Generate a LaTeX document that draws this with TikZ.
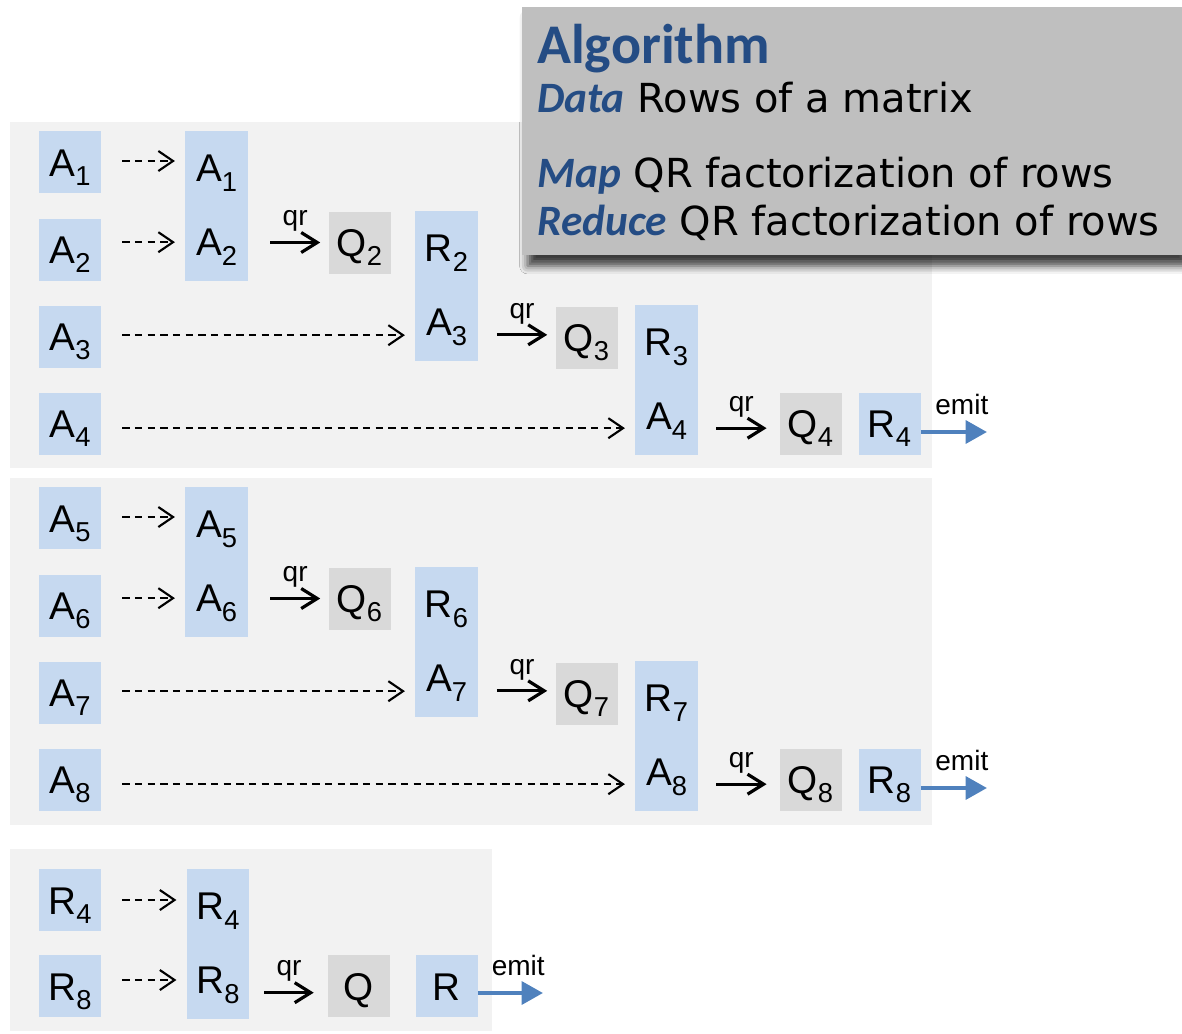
\documentclass[tikz,border=0pt]{standalone}
\usepackage{fontspec}
\setmainfont{Liberation Sans}
\newfontfamily\descfont{DejaVu Sans}
\newfontfamily\headfont{Carlito}
\usetikzlibrary{arrows.meta,shadows.blur}

\definecolor{rowblue}{HTML}{C6D9F0}
\definecolor{qgray}{HTML}{D9D9D9}
\definecolor{panelgray}{HTML}{F2F2F2}
\definecolor{algogray}{HTML}{BFBFBF}
\definecolor{titleblue}{HTML}{244C84}
\definecolor{emitblue}{HTML}{4F81BD}

% block label with a dropped index
\newcommand{\sub}[2]{#1\raisebox{-7pt}{\fontsize{20.5}{20.5}\selectfont #2}}
\newcommand{\kw}[1]{{\headfont\bfseries\itshape\fontsize{32.5}{32.5}\selectfont\color{titleblue}#1}}

\tikzset{
	cell/.style={inner sep=0pt, text height=33.75pt, text depth=12.75pt, font=\fontsize{29}{29}\selectfont},
	blk/.style={cell, fill=rowblue, minimum width=46.5pt, minimum height=46.5pt},
	qblk/.style={blk, fill=qgray},
	tallblk/.style={fill=rowblue, minimum width=47pt, minimum height=112.5pt, inner sep=0pt},
	shuffle/.style={line width=1.6pt, dash pattern=on 5.6pt off 3.9pt, -{Straight Barb[length=11pt,width=15pt]}},
	qrarrow/.style={line width=2.4pt, -{Straight Barb[length=12pt,width=15pt]}},
	emitarrow/.style={line width=3.2pt, emitblue, -{Triangle[length=16pt,width=17pt]}},
	lbl/.style={font=\fontsize{21}{21}\selectfont, inner sep=0pt},
	algline/.style={anchor=base west, inner sep=0pt, font=\descfont\fontsize{30}{30}\selectfont},
}

\begin{document}
\begin{tikzpicture}[x=0.75pt, y=-0.75pt]
	\useasboundingbox (0,0) rectangle (1182,1033);
	
	%%%%% first map task %%%%%
	\fill[panelgray] (10,122) rectangle (932,468);
	
	\node[blk] (a1) at (70,162) {\sub{A}{1}};
	\node[blk] (a2) at (70,249.5) {\sub{A}{2}};
	\node[blk] (a3) at (70,336.5) {\sub{A}{3}};
	\node[blk] (a4) at (70,423.5) {\sub{A}{4}};
	
	\node[tallblk] (m12) at (216.5,206) {};
	\node[cell] (m12a) at ([yshift=-27.75pt]m12.north) {\sub{A}{1}};
	\node[cell] (m12b) at ([yshift=-83.25pt]m12.north) {\sub{A}{2}};
	\node[qblk] (q2) at (359.5,242.5) {\sub{Q}{2}};
	
	\node[tallblk] (m23) at (446.5,286) {};
	\node[cell] (m23a) at ([yshift=-27.75pt]m23.north) {\sub{R}{2}};
	\node[cell] (m23b) at ([yshift=-83.25pt]m23.north) {\sub{A}{3}};
	\node[qblk] (q3) at (586.5,337.5) {\sub{Q}{3}};
	
	\node[tallblk] (m34) at (666.5,380) {};
	\node[cell] (m34a) at ([yshift=-27.75pt]m34.north) {\sub{R}{3}};
	\node[cell] (m34b) at ([yshift=-83.25pt]m34.north) {\sub{A}{4}};
	\node[qblk] (q4) at (810.5,423.5) {\sub{Q}{4}};
	\node[blk] (r4) at (889.5,423.5) {\sub{R}{4}};
	
	\draw[shuffle] ([xshift=15.75pt,yshift=0.75pt]a1.east) -- ([xshift=-7.5pt,yshift=0.75pt]a1.east -| m12.west);
	\draw[shuffle] ([xshift=15.75pt,yshift=5.5pt]a2.east) -- ([xshift=-7.5pt,yshift=5.5pt]a2.east -| m12.west);
	\draw[shuffle] ([xshift=15.75pt,yshift=1pt]a3.east) -- ([xshift=-7.5pt,yshift=1pt]a3.east -| m23.west);
	\draw[shuffle] ([xshift=15.75pt,yshift=-3.5pt]a4.east) -- ([xshift=-7.5pt,yshift=-3.5pt]a4.east -| m34.west);
	
	\draw[qrarrow] ([xshift=16.5pt]q2.west -| m12.east) -- node[lbl, above=7pt] (qr2) {qr} ([xshift=-6pt]q2.west);
	\draw[qrarrow] ([xshift=14pt,yshift=2pt]q3.west -| m23.east) -- node[lbl, above=7pt] (qr3) {qr} ([xshift=-6pt,yshift=2pt]q3.west);
	\draw[qrarrow] ([xshift=13.5pt,yshift=-3.5pt]q4.west -| m34.east) -- node[lbl, above=7pt] (qr4) {qr} ([xshift=-9.5pt,yshift=-3.5pt]q4.west);
	
	\coordinate (e4) at (987,432);
	\draw[emitarrow] (r4.east |- e4) -- node[lbl, above=11pt, pos=0.62, text=black] (emit4) {emit} (e4);
	
	%%%%% second map task %%%%%
	\fill[panelgray] (10,478) rectangle (932,825);
	
	\node[blk] (a5) at (70,518) {\sub{A}{5}};
	\node[blk] (a6) at (70,605.5) {\sub{A}{6}};
	\node[blk] (a7) at (70,692.5) {\sub{A}{7}};
	\node[blk] (a8) at (70,779.5) {\sub{A}{8}};
	
	\node[tallblk] (m56) at (216.5,562) {};
	\node[cell] (m56a) at ([yshift=-27.75pt]m56.north) {\sub{A}{5}};
	\node[cell] (m56b) at ([yshift=-83.25pt]m56.north) {\sub{A}{6}};
	\node[qblk] (q6) at (359.5,598.5) {\sub{Q}{6}};
	
	\node[tallblk] (m67) at (446.5,642) {};
	\node[cell] (m67a) at ([yshift=-27.75pt]m67.north) {\sub{R}{6}};
	\node[cell] (m67b) at ([yshift=-83.25pt]m67.north) {\sub{A}{7}};
	\node[qblk] (q7) at (586.5,693.5) {\sub{Q}{7}};
	
	\node[tallblk] (m78) at (666.5,736) {};
	\node[cell] (m78a) at ([yshift=-27.75pt]m78.north) {\sub{R}{7}};
	\node[cell] (m78b) at ([yshift=-83.25pt]m78.north) {\sub{A}{8}};
	\node[qblk] (q8) at (810.5,779.5) {\sub{Q}{8}};
	\node[blk] (r8) at (889.5,779.5) {\sub{R}{8}};
	
	\draw[shuffle] ([xshift=15.75pt,yshift=0.75pt]a5.east) -- ([xshift=-7.5pt,yshift=0.75pt]a5.east -| m56.west);
	\draw[shuffle] ([xshift=15.75pt,yshift=5.5pt]a6.east) -- ([xshift=-7.5pt,yshift=5.5pt]a6.east -| m56.west);
	\draw[shuffle] ([xshift=15.75pt,yshift=1pt]a7.east) -- ([xshift=-7.5pt,yshift=1pt]a7.east -| m67.west);
	\draw[shuffle] ([xshift=15.75pt,yshift=-3.5pt]a8.east) -- ([xshift=-7.5pt,yshift=-3.5pt]a8.east -| m78.west);
	
	\draw[qrarrow] ([xshift=16.5pt]q6.west -| m56.east) -- node[lbl, above=7pt] (qr6) {qr} ([xshift=-6pt]q6.west);
	\draw[qrarrow] ([xshift=14pt,yshift=2pt]q7.west -| m67.east) -- node[lbl, above=7pt] (qr7) {qr} ([xshift=-6pt,yshift=2pt]q7.west);
	\draw[qrarrow] ([xshift=13.5pt,yshift=-3.5pt]q8.west -| m78.east) -- node[lbl, above=7pt] (qr8) {qr} ([xshift=-9.5pt,yshift=-3.5pt]q8.west);
	
	\coordinate (e8) at (987,788);
	\draw[emitarrow] (r8.east |- e8) -- node[lbl, above=11pt, pos=0.62, text=black] (emit8) {emit} (e8);
	
	%%%%% reduce task %%%%%
	\fill[panelgray] (10,849) rectangle (492,1031);
	
	\node[blk] (rin4) at (70,900) {\sub{R}{4}};
	\node[blk] (rin8) at (70,986) {\sub{R}{8}};
	\node[tallblk] (m48) at (218,944) {};
	\node[cell] (m48a) at ([yshift=-27.75pt]m48.north) {\sub{R}{4}};
	\node[cell] (m48b) at ([yshift=-83.25pt]m48.north) {\sub{R}{8}};
	\node[qblk] (qout) at (359,986) {Q};
	\node[blk] (rout) at (446.5,986) {R};
	
	\draw[shuffle] ([xshift=15.75pt]rin4.east) -- ([xshift=-7.5pt]rin4.east -| m48.west);
	\draw[shuffle] ([xshift=15.75pt,yshift=4.5pt]rin8.east) -- ([xshift=-7.5pt,yshift=4.5pt]rin8.east -| m48.west);
	\draw[qrarrow] ([xshift=11pt,yshift=-5pt]qout.west -| m48.east) -- node[lbl, above=7pt] (qrout) {qr} ([xshift=-10.5pt,yshift=-5pt]qout.west);
	
	\coordinate (eout) at (543,993);
	\draw[emitarrow] (rout.east |- eout) -- node[lbl, above=11pt, pos=0.62, text=black] (emitout) {emit} (eout);
	
	%%%%% algorithm summary %%%%%
	\node[fill=algogray, minimum width=495pt, minimum height=186pt, inner sep=0pt, anchor=north west,
		blur shadow={shadow xshift=4pt, shadow yshift=-8pt, shadow blur radius=6pt, shadow opacity=75}] (algo) at (522,7) {};
	
	\node[anchor=base west, inner sep=0pt, font=\headfont\bfseries\fontsize{42}{42}\selectfont, text=titleblue] (algtitle) at (537,63) {Algorithm};
	\node[algline] (algdata) at (537,112) {\kw{Data} Rows of a matrix};
	\node[algline] (algmap) at (537,187) {\kw{Map} QR factorization of rows};
	\node[algline] (algred) at (537,235) {\kw{Reduce} QR factorization of rows};
\end{tikzpicture}
\end{document}
